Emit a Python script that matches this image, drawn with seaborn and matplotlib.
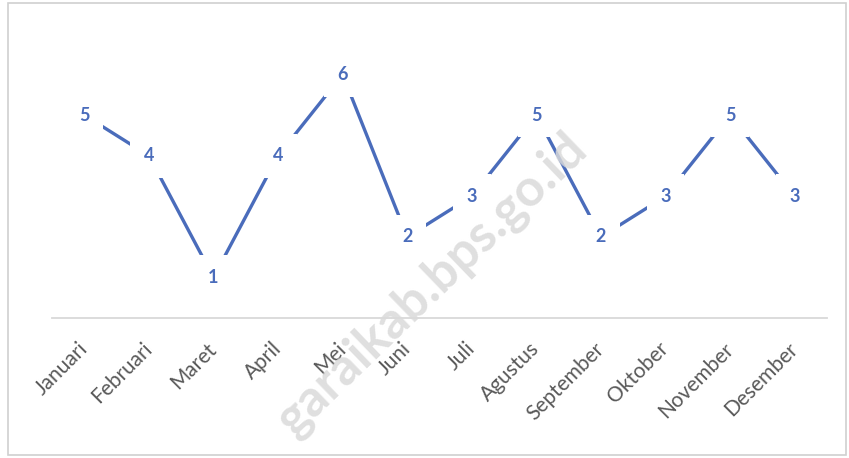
import matplotlib
matplotlib.use("Agg")
import matplotlib.pyplot as plt
import seaborn as sns
import pandas as pd
from matplotlib.patches import Rectangle

months = ["Januari", "Februari", "Maret", "April", "Mei", "Juni", "Juli",
          "Agustus", "September", "Oktober", "November", "Desember"]
values = [5, 4, 1, 4, 6, 2, 3, 5, 2, 3, 5, 3]

sns.set_theme(style="white")
plt.rcParams["font.family"] = ["Lato", "DejaVu Sans"]

line_color = "#4a6cbb"
df = pd.DataFrame({"bulan": months, "jumlah": values})

fig = plt.figure(figsize=(8.49, 4.58), dpi=100)
ax = fig.add_axes([52 / 849, 1 - 318 / 458, (827 - 52) / 849, (318 - 34) / 458])

sns.lineplot(data=df, x="bulan", y="jumlah", sort=False, ax=ax,
             color=line_color, linewidth=2.4, zorder=2)

for i, v in enumerate(values):
    ax.text(i, v, str(v), ha="center", va="center", fontsize=13,
            fontweight="bold", color=line_color, zorder=4,
            bbox=dict(boxstyle="square,pad=0.75", fc="white", ec="none"))

ax.set_xlim(-0.5, len(months) - 0.5)
ax.set_ylim(0, 7)
ax.set_xlabel("")
ax.set_ylabel("")
ax.set_yticks([])
for s in ["left", "right", "top"]:
    ax.spines[s].set_visible(False)
ax.spines["bottom"].set_color("#d9d9d9")
ax.spines["bottom"].set_linewidth(1.3)
ax.tick_params(axis="x", length=0, pad=20, colors="#595959", labelsize=15)
for lab in ax.get_xticklabels():
    lab.set_rotation(45)
    lab.set_ha("right")
    lab.set_va("center")
    lab.set_rotation_mode("anchor")

# watermark
fig.text(432 / 849, 1 - 284 / 458, "garaikab.bps.go.id", rotation=44,
         ha="center", va="center", fontsize=37, fontweight="bold",
         color="#dadada", alpha=0.85, zorder=5)

# outer border
fig.patches.append(Rectangle((8 / 849, 3 / 458), 838 / 849, 452 / 458,
                             transform=fig.transFigure, fill=False,
                             ec="#d0d0d0", lw=1.2))

fig.savefig("out.png", dpi=100, facecolor="white")
